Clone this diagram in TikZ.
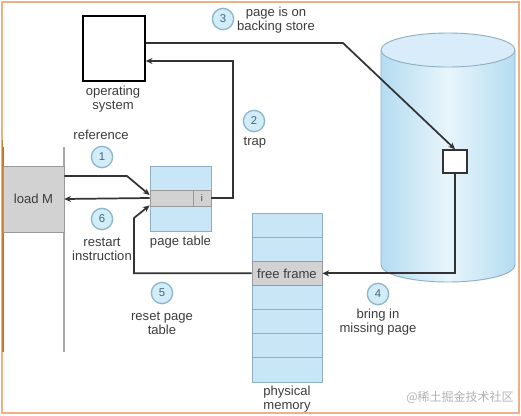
\documentclass[tikz,border=0pt]{standalone}
\usepackage{fontspec}
\setmainfont{Liberation Sans}
\newfontfamily\cjk{Noto Sans CJK SC}
\usetikzlibrary{arrows.meta,calc}

\definecolor{txtgray}{HTML}{3C3C3C}
\definecolor{linegray}{HTML}{333333}
\definecolor{paleblue}{HTML}{C8E6F6}
\definecolor{edgeblue}{HTML}{8FB0C2}
\definecolor{rowgray}{HTML}{D2D2D2}
\definecolor{circfill}{HTML}{D2ECF8}
\definecolor{circedge}{HTML}{8CB6CC}
\definecolor{numtxt}{HTML}{3E6A82}
\definecolor{diskside}{HTML}{B4DCF1}
\definecolor{diskmid}{HTML}{E8F5FC}
\definecolor{frameorange}{HTML}{EDB088}

\begin{document}
\begin{tikzpicture}[x=0.75pt,y=0.75pt,yscale=-1,xscale=1,
	lbl/.style={font=\fontsize{9.8}{10.5}\selectfont, text=txtgray, align=center, inner sep=0.75pt},
	numc/.style={circle, draw=circedge, fill=circfill, line width=1pt, minimum size=16pt, inner sep=0pt, font=\fontsize{8.5}{8.5}\selectfont, text=numtxt},
	link/.style={draw=linegray, line width=1.3pt},
	tip/.style={-{Stealth[length=5pt,width=4.5pt]}},
	cell/.style={draw=edgeblue, fill=paleblue, line width=0.6pt, inner sep=0pt}]
	\useasboundingbox (0,0) rectangle (521,415);

	%Shape: Program strip
	\draw [color=gray!70, line width=0.8pt] (64,147) -- (64,352) ;
	\draw [color=gray, line width=0.8pt] (3,147) -- (3,352) ;
	\node [draw=gray!80, fill=rowgray, minimum width=45.75pt, minimum height=49.5pt, inner sep=0pt, lbl] (loadM) at (33.5,199) {load M};

	%Shape: Operating system
	\node [draw=black, line width=1.2pt, fill=white, minimum width=46.5pt, minimum height=48.75pt] (os) at (114,48.5) {};
	% Text Node
	\node [lbl] (oslbl) at (113,99) {operating\\system};

	%Shape: Page table
	\node [cell, minimum width=45.75pt, minimum height=48.75pt] (ptab) at (180.5,198.5) {};
	\node [cell, draw=gray!80, fill=rowgray, minimum width=45.75pt, minimum height=12pt] (ptrow) at (180.5,198) {};
	\node [cell, draw=gray!80, fill=rowgray, minimum width=13.5pt, minimum height=12pt, font=\fontsize{7}{7}\selectfont, text=txtgray] (ptbit) at (202,198) {i};
	% Text Node
	\node [lbl] (ptlbl) at (180.5,242) {page table};

	%Shape: Physical memory
	\foreach \i in {0,...,6}
		\node [cell, minimum width=52.5pt, minimum height=18.1pt] (mem\i) at (287,{213+24.14*(\i+0.5)}) {};
	\node [cell, draw=gray!80, fill=rowgray, minimum width=52.5pt, minimum height=18.1pt, lbl] (ff) at (mem2) {free frame};
	% Text Node
	\node [lbl] (memlbl) at (287,399) {physical\\memory};

	%Shape: Backing store
	\shade [left color=diskside, right color=diskside, middle color=diskmid] (381,50) rectangle (515,265) ;
	\shade [left color=diskside, right color=diskside, middle color=diskmid] (448,265) ellipse [x radius=67, y radius=17] ;
	\draw [color=edgeblue, line width=0.7pt] (381,50) -- (381,265) arc [start angle=180, end angle=0, x radius=67, y radius=17] -- (515,50) ;
	\draw [color=edgeblue, line width=0.7pt, fill=diskmid!70!diskside] (448,50) ellipse [x radius=67, y radius=17] ;
	\node [draw=linegray, line width=1.2pt, fill=white, minimum width=18pt, minimum height=17.25pt] (blk) at (455,161.5) {};

	%Connectors
	\coordinate (bend3) at (343,43);
	\draw [link,tip] (os.east |- bend3) -- (bend3) -- (blk.north) ;
	\coordinate (trapc) at (233,61);
	\draw [link,tip] (ptbit.east) -| (trapc) -- (os.east |- trapc) ;
	\draw [link,tip] (blk.south) |- (ff.east) ;
	\coordinate (rstc) at (134,218);
	\draw [link,tip] (ff.west) -| (rstc) -- ($(ptrow.south west)+(0,-1)$) ;
	\coordinate (refc) at (127,176);
	\draw [link,tip] (loadM.east |- refc) -- (refc) -- ($(ptrow.west)+(0,-3)$) ;
	\draw [link,tip] (ptrow.west) -- (loadM.east) ;

	%Step numbers
	\node [numc] (n1) at (102,157) {1};
	\node [numc] (n2) at (254,121) {2};
	\node [numc] (n3) at (223,19) {3};
	\node [numc] (n4) at (378,294) {4};
	\node [numc] (n5) at (162,293) {5};
	\node [numc] (n6) at (102,219) {6};

	% Text Node
	\node [lbl] (reflbl) at (101,135) {reference};
	% Text Node
	\node [lbl] (traplbl) at (255,143) {trap};
	% Text Node
	\node [lbl] (storelbl) at (276,20.5) {page is on\\backing store};
	% Text Node
	\node [lbl] (bringlbl) at (378,322) {bring in\\missing page};
	% Text Node
	\node [lbl] (resetlbl) at (162,323) {reset page\\table};
	% Text Node
	\node [lbl] (restartlbl) at (102,249) {restart\\instruction};
	% Text Node
	\node [font=\fontsize{9}{9}\selectfont, text=gray!60] (wmark) at (460,397) {\cjk @稀土掘金技术社区};

	%Shape: Frame
	\draw [color=frameorange, line width=1.8pt] (2,2) rectangle (519,413) ;
	\draw [color=brown!80!orange, line width=1pt] (2.5,140) -- (2.5,352) ;
\end{tikzpicture}
\end{document}
